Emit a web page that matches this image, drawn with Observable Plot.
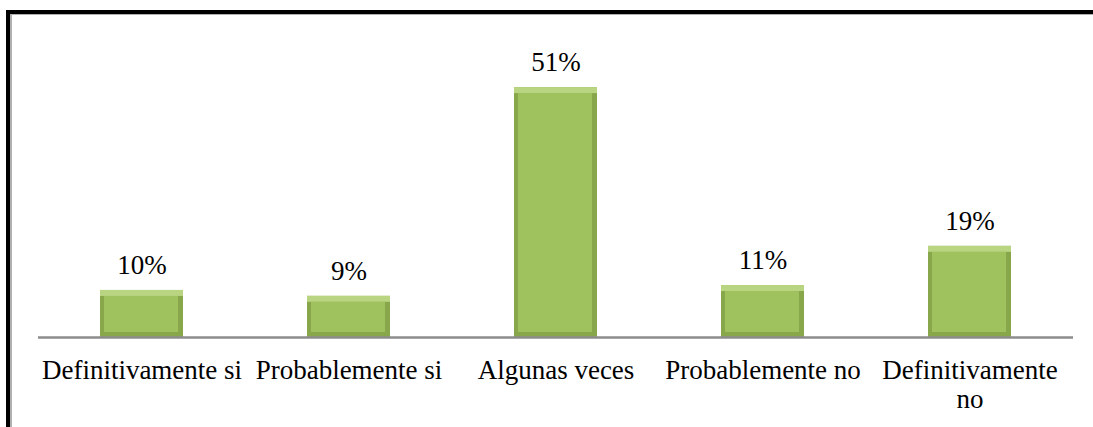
<!DOCTYPE html>
<html>
<head>
<meta charset="utf-8">
<script src="https://cdn.jsdelivr.net/npm/d3@7"></script>
<script src="https://cdn.jsdelivr.net/npm/@observablehq/plot@0.6"></script>
<style>
  html, body { margin: 0; padding: 0; background: #fff; }
  #wrap { position: relative; width: 1093px; height: 427px; overflow: hidden; }
  #frame { position: absolute; left: 6px; top: 10px; width: 2000px; height: 2000px;
           border-top: 4px solid #000; border-left: 4px solid #000;
           box-shadow: inset 2px 1px 0 #b0b0b0; pointer-events: none; }
  svg text { font-family: "Liberation Serif", "Times New Roman", Times, serif !important; }
</style>
</head>
<body>
<div id="wrap"><div id="frame"></div></div>
<script>
const categories = ["Definitivamente si", "Probablemente si", "Algunas veces", "Probablemente no", "Definitivamente no"];
const tickLabels = ["Definitivamente si", "Probablemente si", "Algunas veces", "Probablemente no", "Definitivamente\nno"];
const values = [9.6, 8.4, 51, 10.6, 18.6];
const valueLabels = ["10%", "9%", "51%", "11%", "19%"];

const data = categories.map((c, i) => ({cat: c, value: values[i], label: valueLabels[i]}));
const tickMap = new Map(categories.map((c, i) => [c, tickLabels[i]]));

const chart = Plot.plot({
  width: 1093,
  height: 427,
  marginLeft: 38,
  marginRight: 20,
  marginTop: 43,
  marginBottom: 90,
  style: {fontSize: "27px", color: "#000", background: "transparent"},
  x: {domain: categories, paddingInner: 0.6, paddingOuter: 0.3, label: null},
  y: {domain: [0, 60], axis: null},
  marks: [
    Plot.barY(data, {x: "cat", y: "value", fill: "#88a74a"}),
    Plot.rectY(data, {x: "cat", y1: "value", y2: "value", insetBottom: -6, fill: "#bad582"}),
    Plot.barY(data, {x: "cat", y: "value", insetLeft: 4, insetRight: 5, insetTop: 6, insetBottom: 5, fill: "#a0c25e"}),
    Plot.ruleY([0], {stroke: "#8c8c8c", strokeWidth: 2.5}),
    Plot.text(data, {x: "cat", y: "value", text: "label", dy: -25, lineAnchor: "middle",
      fontSize: 27, fill: "#000"}),
    Plot.axisX({tickSize: 0, tickPadding: 20, tickFormat: d => tickMap.get(d), fontSize: 27,
      lineHeight: 1.1, fill: "#000", label: null})
  ]
});
chart.style.position = "absolute";
chart.style.left = "0px";
chart.style.top = "0px";
document.getElementById("wrap").insertBefore(chart, document.getElementById("frame"));
</script>
</body>
</html>
